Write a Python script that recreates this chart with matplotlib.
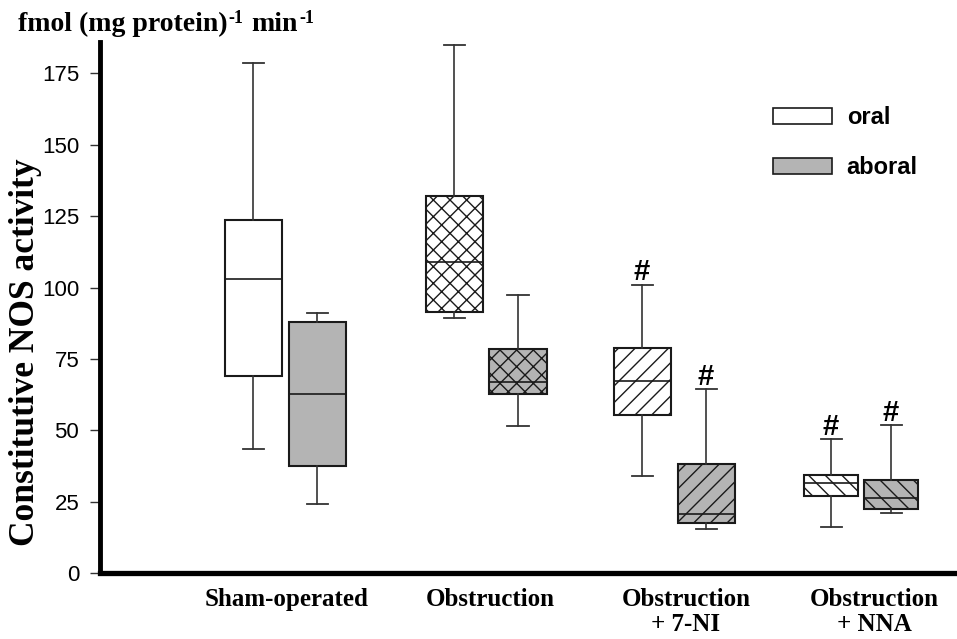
import matplotlib
matplotlib.use("Agg")
import matplotlib.pyplot as plt
from matplotlib.patches import Patch

# groups and box statistics
categories = ["Sham-operated", "Obstruction", "Obstruction\n+ 7-NI", "Obstruction\n+ NNA"]

oral_whislo = [43.5, 89.2, 34.0, 16.2]
oral_q1 = [69.0, 91.4, 55.4, 27.0]
oral_med = [103.0, 108.8, 67.4, 31.5]
oral_q3 = [123.5, 132.0, 78.8, 34.4]
oral_whishi = [178.5, 184.9, 101.0, 46.9]
oral_sig = [False, False, True, True]

aboral_whislo = [24.2, 51.6, 15.3, 20.9]
aboral_q1 = [37.4, 62.8, 17.6, 22.3]
aboral_med = [62.7, 67.0, 20.5, 26.1]
aboral_q3 = [87.9, 78.4, 38.2, 32.6]
aboral_whishi = [91.0, 97.3, 64.3, 51.9]
aboral_sig = [False, False, True, True]

yticks = [0, 25, 50, 75, 100, 125, 150, 175]

# layout
group_x = [1.85, 3.86, 5.74, 7.61]
offsets = [0.32, 0.32, 0.32, 0.30]
widths = [0.57, 0.57, 0.57, 0.54]
label_x = [1.87, 3.90, 5.86, 7.74]
hatches = ["", "xx", "//", "\\\\"]
fill_oral = "white"
fill_aboral = "#b4b4b4"
edge = "#1a1a1a"

plt.rcParams["hatch.linewidth"] = 1.0


def make_stats(lo, q1, med, q3, hi):
    stats = []
    for i in range(len(lo)):
        stats.append({"whislo": lo[i], "q1": q1[i], "med": med[i],
                      "q3": q3[i], "whishi": hi[i], "fliers": []})
    return stats


fig = plt.figure(figsize=(9.57, 6.39), dpi=100)
ax = fig.add_axes([100 / 957, 66 / 639, 857 / 957, 531 / 639])

series = [
    (make_stats(oral_whislo, oral_q1, oral_med, oral_q3, oral_whishi), -1, fill_oral, oral_sig, oral_whishi),
    (make_stats(aboral_whislo, aboral_q1, aboral_med, aboral_q3, aboral_whishi), 1, fill_aboral, aboral_sig, aboral_whishi),
]

for stats, sign, fill, sig, tops in series:
    pos = [g + sign * o for g, o in zip(group_x, offsets)]
    bp = ax.bxp(stats, positions=pos, widths=widths, patch_artist=True,
                showfliers=False, capwidths=0.21,
                boxprops=dict(facecolor=fill, edgecolor=edge, linewidth=1.5),
                medianprops=dict(color=edge, linewidth=1.2),
                whiskerprops=dict(color="#333333", linewidth=1.2),
                capprops=dict(color="#333333", linewidth=1.3))
    for box, h in zip(bp["boxes"], hatches):
        box.set_hatch(h)
    for x, s, t in zip(pos, sig, tops):
        if s:
            ax.text(x, t + 1.5, "#", ha="center", va="baseline",
                    fontsize=21, fontweight="bold", family="Liberation Sans")

ax.set_xlim(0, 8.57)
ax.set_ylim(0, 186)
ax.set_yticks(yticks)
ax.set_yticklabels([str(v) for v in yticks], fontsize=16, family="Liberation Sans")
ax.tick_params(axis="y", length=7, width=1.0, pad=8, color="#333333")
ax.set_xticks(label_x)
ax.set_xticklabels(categories, fontsize=18, fontweight="bold",
                   family="Liberation Serif", linespacing=1.12)
ax.tick_params(axis="x", length=0, pad=11)

for side in ("top", "right"):
    ax.spines[side].set_visible(False)
ax.spines["left"].set_linewidth(3.5)
ax.spines["bottom"].set_linewidth(3.8)

handles = [Patch(facecolor=fill_oral, edgecolor=edge, linewidth=1.2),
           Patch(facecolor=fill_aboral, edgecolor=edge, linewidth=1.2)]
ax.legend(handles, ["oral", "aboral"], loc="upper left",
          bbox_to_anchor=(773 / 957, 1 - 106 / 639), bbox_transform=fig.transFigure,
          frameon=False, borderpad=0, borderaxespad=0,
          handlelength=2.5, handleheight=0.64, handletextpad=0.62,
          labelspacing=1.15,
          prop={"family": "Liberation Sans", "weight": "bold", "size": 17})

# axis unit title, superscripts placed piece by piece
renderer = fig.canvas.get_renderer()
title_parts = [("fmol (mg protein)", 20, 0), ("-1", 13, 8), ("min", 20, 0), ("-1", 13, 8)]
gaps = [0, 1, 8, 1]
x_px = 18
base_px = 639 - 31
for (txt, size, rise), gap in zip(title_parts, gaps):
    x_px += gap
    t = fig.text(x_px / 957, (base_px + rise) / 639, txt, fontsize=size,
                 fontweight="bold", family="Liberation Serif",
                 ha="left", va="baseline")
    x_px = t.get_window_extent(renderer).x1

fig.text(26 / 957, 1 - 352 / 639, "Constitutive NOS activity",
         rotation=90, ha="center", va="center", fontsize=25.5,
         fontweight="bold", family="Liberation Serif")

fig.savefig("out.png", dpi=100)
